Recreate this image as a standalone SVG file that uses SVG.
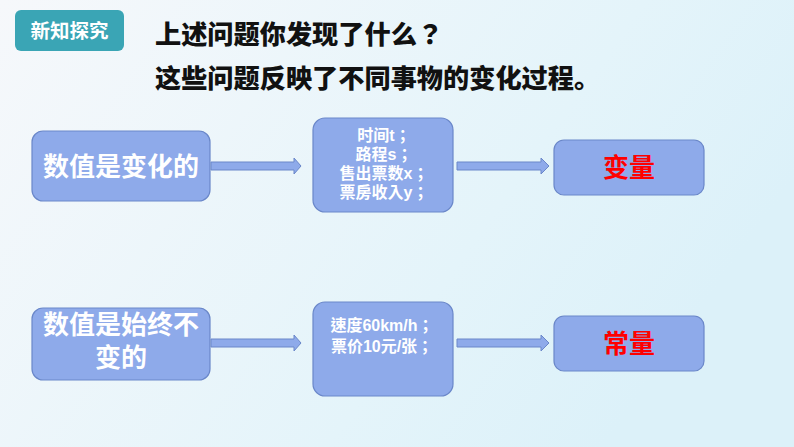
<svg xmlns="http://www.w3.org/2000/svg" width="794" height="447" viewBox="0 0 794 447">
<defs>
<linearGradient id="bg" x1="0" y1="0" x2="1" y2="0.4">
<stop offset="0" stop-color="#f6f8fb"/>
<stop offset="0.7" stop-color="#e4f4fa"/>
<stop offset="1" stop-color="#dcf1f9"/>
</linearGradient>
<style>
text{text-spacing-trim:space-all}
.box{fill:#8eaaea;stroke:#6a87c9;stroke-width:1.2}
.arr{fill:#8eaaea;stroke:#6a87c9;stroke-width:1}
.cn{font-family:"Liberation Sans","Noto Sans CJK SC",sans-serif;font-weight:bold;text-anchor:middle}
.big{font-size:26px;fill:#ffffff}
.small{font-family:"Liberation Sans","Noto Sans CJK TC",sans-serif;font-size:16px;fill:#ffffff}
.red{font-size:26px;fill:#ff0000}
.title{font-family:"Noto Sans CJK SC",sans-serif;font-weight:900;font-size:26.2px;fill:#111111}
.p{font-family:"Noto Sans CJK TC",sans-serif}
</style>
</defs>
<rect width="794" height="447" fill="url(#bg)"/>
<g id="badge">
<rect x="15" y="10" width="109" height="41" rx="6" fill="#3aa5b5"/>
<text x="69.5" y="38" class="cn" style="font-size:19.5px;fill:#ffffff">新知探究</text>
</g>
<g id="title">
<text x="155" y="44" class="title">上述问题你发现了什么<tspan class="p">？</tspan></text>
<text x="155" y="88" class="title">这些问题反映了不同事物的变化过程。</text>
</g>
<g id="connectors">
<path class="arr" d="M211,162 H294 V158 L301,166 L294,174 V170 H211 Z"/>
<path class="arr" d="M457,162 H541 V158 L549,166 L541,174 V170 H457 Z"/>
<path class="arr" d="M211,339 H294 V335 L301,343 L294,351 V347 H211 Z"/>
<path class="arr" d="M457,339 H541 V335 L549,343 L541,351 V347 H457 Z"/>
</g>
<g id="node-varying">
<rect class="box" x="32" y="131" width="178" height="70" rx="11"/>
<text x="121" y="176" class="cn big">数值是变化的</text>
</g>
<g id="node-examples1">
<rect class="box" x="313" y="118" width="140" height="94" rx="12"/>
<text x="384" y="141" class="cn small">时间t；</text>
<text x="384" y="160" class="cn small">路程s；</text>
<text x="384" y="179" class="cn small">售出票数x；</text>
<text x="384" y="198" class="cn small">票房收入y；</text>
</g>
<g id="node-variable">
<rect class="box" x="554" y="140" width="150" height="55" rx="10"/>
<text x="629" y="177" class="cn red">变量</text>
</g>
<g id="node-constant-desc">
<rect class="box" x="32" y="308" width="178" height="72" rx="11"/>
<text x="121" y="334" class="cn big">数值是始终不</text>
<text x="121" y="367" class="cn big">变的</text>
</g>
<g id="node-examples2">
<rect class="box" x="313" y="302" width="140" height="94" rx="12"/>
<text x="382" y="331" class="cn small">速度60km/h；</text>
<text x="382" y="352" class="cn small">票价10元/张；</text>
</g>
<g id="node-constant">
<rect class="box" x="554" y="316" width="150" height="55" rx="10"/>
<text x="629" y="353" class="cn red">常量</text>
</g>
</svg>
